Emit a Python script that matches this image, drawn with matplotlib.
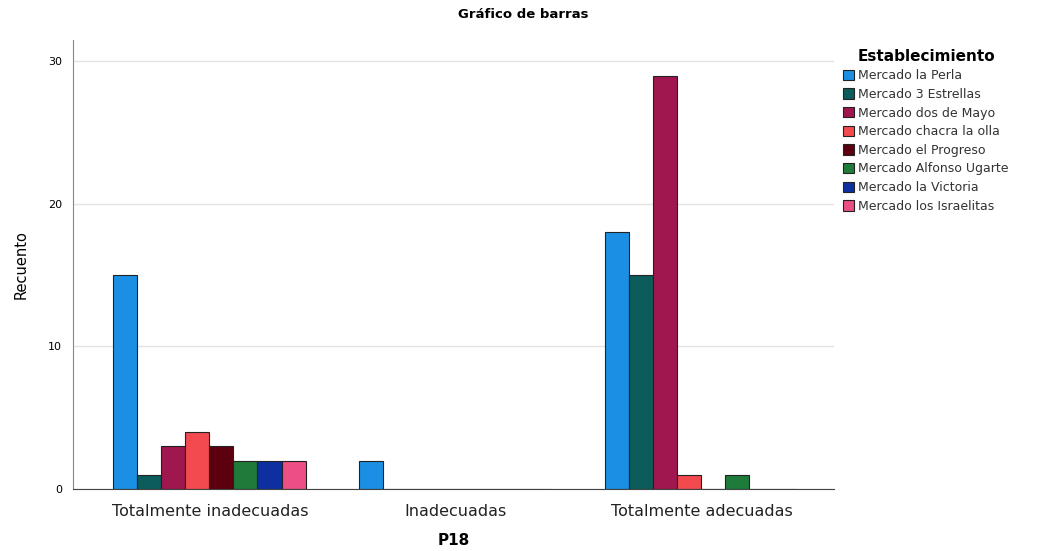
import numpy as np
import matplotlib.pyplot as plt

categories = ["Totalmente inadecuadas", "Inadecuadas", "Totalmente adecuadas"]
mercados = ["Mercado la Perla", "Mercado 3 Estrellas", "Mercado dos de Mayo",
            "Mercado chacra la olla", "Mercado el Progreso", "Mercado Alfonso Ugarte",
            "Mercado la Victoria", "Mercado los Israelitas"]
la_perla = [15, 2, 18]
tres_estrellas = [1, 0, 15]
dos_de_mayo = [3, 0, 29]
chacra = [4, 0, 1]
progreso = [3, 0, 0]
alfonso_ugarte = [2, 0, 1]
la_victoria = [2, 0, 0]
israelitas = [2, 0, 0]
series = [la_perla, tres_estrellas, dos_de_mayo, chacra, progreso,
          alfonso_ugarte, la_victoria, israelitas]
colors = ["#1a8fe3", "#0b5c5a", "#a0164e", "#f24a4f", "#5c0010",
          "#1e7b3a", "#0d2fa0", "#ee4e86"]

fig = plt.figure(figsize=(10.46, 5.51), dpi=100)
ax = fig.add_axes([0.0698, 0.1125, 0.728, 0.815])

x = np.arange(len(categories))
w = 0.098
start = -0.395  # left edge of first bar in group
for i, (vals, c, name) in enumerate(zip(series, colors, mercados)):
    ax.bar(x + start + i * w, vals, width=w, align="edge", color=c,
           edgecolor="#222222", linewidth=0.8, label=name)

ax.set_xlim(-0.557, 2.54)
ax.set_ylim(0, 31.5)
ax.set_yticks([0, 10, 20, 30])
ax.set_xticks(x)
ax.set_xticklabels(categories, fontsize=11.5, color="#222222")
ax.tick_params(axis="y", labelsize=8, length=0, pad=8)
ax.tick_params(axis="x", length=0, pad=11)
ax.grid(axis="y", color="#e4e4e4", linewidth=1)
ax.set_axisbelow(True)
for s in ["top", "right"]:
    ax.spines[s].set_visible(False)
ax.spines["left"].set_color("#888888")
ax.spines["bottom"].set_color("#444444")

ax.set_ylabel("Recuento", fontsize=10.5, labelpad=14)
ax.set_xlabel("P18", fontsize=11, fontweight="bold", labelpad=10)
fig.suptitle("Gráfico de barras", fontsize=9.5, fontweight="bold", x=0.5, y=0.985)

leg = ax.legend(loc="upper left", bbox_to_anchor=(1.0, 1.0), frameon=False,
                fontsize=9, title="Establecimiento", handlelength=0.9,
                handleheight=0.9, handletextpad=0.3, labelspacing=0.45,
                borderaxespad=0.3)
leg.get_title().set_fontweight("bold")
leg.get_title().set_fontsize(11)
for t in leg.get_texts():
    t.set_color("#333333")

fig.savefig("out.png", dpi=100)
